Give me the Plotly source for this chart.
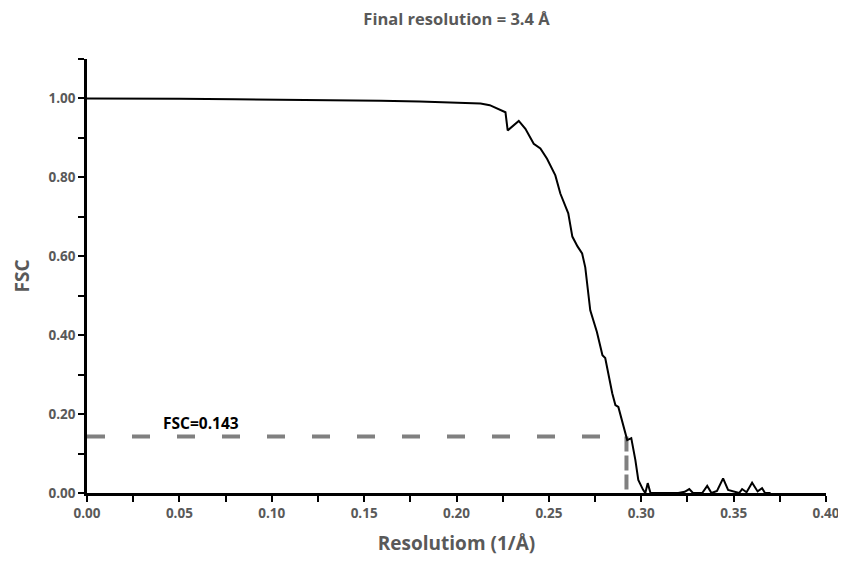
import plotly.graph_objects as go

# FSC curve
res = [0.000, 0.020, 0.050, 0.080, 0.105, 0.130, 0.159, 0.180, 0.200, 0.213,
       0.218, 0.2227, 0.2250, 0.2265, 0.2277, 0.2305, 0.2337, 0.2373, 0.2418, 0.2454,
       0.2490, 0.2535, 0.2562, 0.2605, 0.2627, 0.2655, 0.2680, 0.2697, 0.2714, 0.2724,
       0.2760, 0.2790, 0.2805, 0.2843, 0.2860, 0.2876, 0.2924, 0.2946, 0.2968, 0.2984,
       0.3010, 0.3022, 0.3035, 0.3050, 0.3100, 0.3200, 0.3235, 0.3260, 0.3280, 0.3330,
       0.3357, 0.3380, 0.3410, 0.3443, 0.3470, 0.3500, 0.3530, 0.3546, 0.3570, 0.3600,
       0.3630, 0.3654, 0.3670, 0.3700]
fsc = [1.000, 1.000, 0.999, 0.998, 0.997, 0.996, 0.994, 0.992, 0.989, 0.987,
       0.983, 0.974, 0.968, 0.965, 0.919, 0.930, 0.943, 0.923, 0.885, 0.873,
       0.847, 0.805, 0.759, 0.709, 0.650, 0.625, 0.607, 0.572, 0.500, 0.463,
       0.408, 0.349, 0.342, 0.253, 0.223, 0.218, 0.134, 0.139, 0.084, 0.033,
       0.008, 0.000, 0.025, 0.000, 0.000, 0.000, 0.003, 0.010, 0.000, 0.000,
       0.018, 0.000, 0.005, 0.037, 0.008, 0.004, 0.000, 0.010, 0.002, 0.026,
       0.004, 0.012, 0.000, 0.000]

threshold = 0.143
cutoff = 0.292
x_ticks = [0.00, 0.05, 0.10, 0.15, 0.20, 0.25, 0.30, 0.35, 0.40]
y_ticks = [0.00, 0.20, 0.40, 0.60, 0.80, 1.00]

GRAY = "#595959"
FONT = "Open Sans"

fig = go.Figure()
fig.add_trace(go.Scatter(x=[0, cutoff], y=[threshold, threshold],
                         mode="lines",
                         line=dict(color="#808080", width=4, dash="18px,27px"),
                         hoverinfo="skip", showlegend=False))
fig.add_trace(go.Scatter(x=[cutoff, cutoff], y=[threshold, 0],
                         mode="lines",
                         line=dict(color="#808080", width=4, dash="15px,4px"),
                         hoverinfo="skip", showlegend=False))
fig.add_trace(go.Scatter(x=res, y=fsc, mode="lines",
                         line=dict(color="black", width=2),
                         showlegend=False))

fig.add_annotation(x=0.0616, y=0.178, text="<b>FSC=0.143</b>", showarrow=False,
                   font=dict(family=FONT, size=15.5, color="black"))

fig.update_layout(
    width=846, height=561,
    margin=dict(l=79, r=28, t=51, b=76),
    plot_bgcolor="white", paper_bgcolor="white",
    title=dict(text="<b>Final resolution = 3.4 Å</b>", xref="paper", x=0.5, xanchor="center",
               y=0.980, yanchor="middle",
               font=dict(family=FONT, size=16.5, color=GRAY)),
    xaxis=dict(range=[0, 0.40], tickvals=x_ticks,
               ticktext=[f"{v:.2f}" for v in x_ticks],
               showgrid=False, zeroline=False, automargin=False,
               showline=True, linecolor="black", linewidth=2.5,
               ticks="outside", ticklen=6, tickwidth=2, tickcolor="black",
               minor=dict(dtick=0.025, ticks="outside", ticklen=6, tickwidth=2, tickcolor="black"),
               tickfont=dict(family=FONT, size=13.5, color=GRAY, weight="bold"),
               title=dict(text="<b>Resolutiom (1/Å)</b>", standoff=16,
                          font=dict(family=FONT, size=19, color=GRAY))),
    yaxis=dict(range=[0, 1.10], tickvals=y_ticks,
               ticktext=[f"{v:.2f}" for v in y_ticks],
               showgrid=False, zeroline=False, automargin=False,
               showline=True, linecolor="black", linewidth=2.5,
               ticks="outside", ticklen=6, tickwidth=2, tickcolor="black",
               minor=dict(dtick=0.1, ticks="outside", ticklen=6, tickwidth=2, tickcolor="black"),
               tickfont=dict(family=FONT, size=13.5, color=GRAY, weight="bold"),
               title=dict(text="<b>FSC</b>", standoff=14,
                          font=dict(family=FONT, size=19, color=GRAY))),
)

fig.write_html("out.html")
